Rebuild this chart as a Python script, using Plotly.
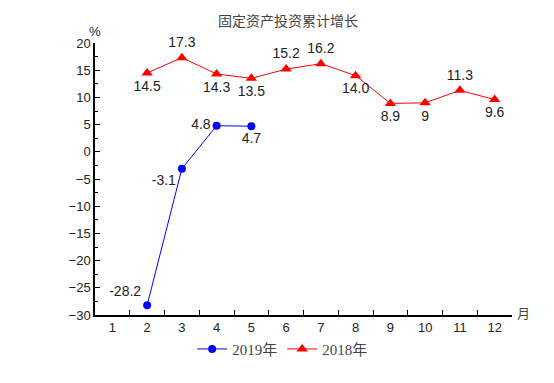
import plotly.graph_objects as go

months = [str(m) for m in range(1, 13)]
x2019 = ["2", "3", "4", "5"]
y2019 = [-28.2, -3.1, 4.8, 4.7]
lab2019 = ["-28.2", "-3.1", "4.8", "4.7"]
pos2019 = ["top left", "bottom left", "middle left", "bottom center"]

x2018 = ["2", "3", "4", "5", "6", "7", "8", "9", "10", "11", "12"]
y2018 = [14.5, 17.3, 14.3, 13.5, 15.2, 16.2, 14.0, 8.9, 9, 11.3, 9.6]
lab2018 = ["14.5", "17.3", "14.3", "13.5", "15.2", "16.2", "14.0", "8.9", "9", "11.3", "9.6"]
pos2018 = ["bottom center", "top center", "bottom center", "bottom center", "top center",
           "top center", "bottom center", "bottom center", "bottom center", "top center", "bottom center"]

lblfont = dict(family="Liberation Sans, Arial, sans-serif", size=14, color="#222")

fig = go.Figure()
fig.add_trace(go.Scatter(
    x=x2019, y=y2019, name="2019年", mode="lines+markers+text",
    line=dict(color="#0000ff", width=1), marker=dict(symbol="circle", size=8, color="#0000ff"),
    text=lab2019, textposition=pos2019, textfont=lblfont, cliponaxis=False))
fig.add_trace(go.Scatter(
    x=x2018, y=y2018, name="2018年", mode="lines+markers+text",
    line=dict(color="#ff0000", width=1), marker=dict(symbol="triangle-up", size=10, color="#ff0000"),
    text=lab2018, textposition=pos2018, textfont=lblfont, cliponaxis=False))

fig.update_layout(
    width=554, height=383,
    margin=dict(l=95, r=42, t=43, b=68, autoexpand=False),
    paper_bgcolor="white", plot_bgcolor="white",
    title=dict(text="固定资产投资累计增长", x=0.52, xanchor="center", y=0.945, yanchor="middle",
               font=dict(family="Noto Sans CJK SC", size=14, color="#444")),
    showlegend=True,
    legend=dict(orientation="h", x=0.45, xanchor="center", y=-0.065, yanchor="top",
                font=dict(family="Liberation Serif, Noto Sans CJK SC", size=15, color="#444"),
                itemwidth=30, tracegroupgap=0),
    xaxis=dict(type="category", categoryorder="array", categoryarray=months,
               range=[-0.5, 11.5], tickson="boundaries", ticks="inside", ticklen=5,
               tickcolor="black", showline=True, linecolor="black", linewidth=1.5,
               showgrid=False, zeroline=False,
               tickfont=dict(family="Liberation Sans, Arial", size=13, color="#222")),
    yaxis=dict(range=[-30, 20], dtick=5, ticks="inside", ticklen=5, tickcolor="black",
               showline=True, linecolor="black", linewidth=1.5, showgrid=False, zeroline=False,
               minor=dict(dtick=2.5, ticks="inside", ticklen=3, tickcolor="black"),
               tickfont=dict(family="Liberation Sans, Arial", size=13, color="#222")),
    annotations=[
        dict(text="%", xref="paper", yref="paper", x=0, xanchor="center", y=1, yanchor="middle",
             yshift=12, showarrow=False,
             font=dict(family="Liberation Sans, Arial", size=13, color="#222")),
        dict(text="月", xref="paper", yref="paper", x=1, xanchor="center", xshift=11,
             y=0, yanchor="middle", yshift=3, showarrow=False,
             font=dict(family="Noto Sans CJK SC", size=13, color="#444")),
    ],
)

fig.write_html("out.html", config={"displayModeBar": False},
               post_script="document.body.style.margin='0';document.body.style.overflow='hidden';")
